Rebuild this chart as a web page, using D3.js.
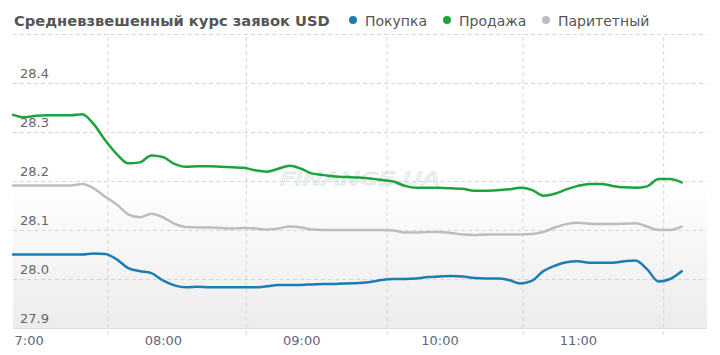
<!DOCTYPE html>
<html><head><meta charset="utf-8">
<script src="https://cdn.jsdelivr.net/npm/d3@7"></script>
<style>
html,body{margin:0;padding:0;background:#fff;}
svg{display:block;font-family:"DejaVu Sans",Verdana,sans-serif;}
</style></head>
<body><svg id="c" width="720" height="355"></svg>
<script>
const title = "Средневзвешенный курс заявок USD";
const seriesNames = ["Покупка","Продажа","Паритетный"];
const seriesColors = ["#1b7db3","#1ea33b","#bdbdbd"];
const times = ["06:55","07:00","07:05","07:10","07:15","07:20","07:25","07:30","07:35","07:40","07:45","07:50","07:55",
"08:00","08:05","08:10","08:15","08:20","08:25","08:30","08:35","08:40","08:45","08:50","08:55",
"09:00","09:05","09:10","09:15","09:20","09:25","09:30","09:35","09:40","09:45","09:50","09:55",
"10:00","10:05","10:10","10:15","10:20","10:25","10:30","10:35","10:40","10:45","10:50","10:55",
"11:00","11:05","11:10","11:15","11:20","11:25","11:30","11:35","11:40","11:45"];
const buy = [28.050,28.050,28.050,28.050,28.050,28.050,28.050,28.052,28.051,28.040,28.022,28.016,28.012,
27.997,27.987,27.983,27.984,27.983,27.983,27.983,27.983,27.983,27.985,27.988,27.988,
27.988,27.989,27.990,27.990,27.991,27.992,27.994,27.998,28.000,28.000,28.001,28.004,
28.005,28.006,28.005,28.002,28.001,28.001,27.998,27.991,27.996,28.016,28.027,28.034,
28.036,28.033,28.033,28.033,28.036,28.038,28.020,27.995,28.000,28.016];
const sell = [28.335,28.330,28.333,28.334,28.334,28.334,28.336,28.316,28.283,28.255,28.236,28.238,28.252,
28.249,28.235,28.229,28.230,28.230,28.229,28.228,28.227,28.222,28.219,28.225,28.231,
28.225,28.215,28.212,28.209,28.208,28.207,28.205,28.202,28.199,28.190,28.186,28.186,
28.186,28.185,28.184,28.180,28.180,28.181,28.183,28.186,28.182,28.170,28.174,28.183,
28.190,28.194,28.194,28.190,28.187,28.186,28.189,28.204,28.204,28.197];
const parity = [28.191,28.191,28.191,28.191,28.191,28.191,28.194,28.185,28.168,28.152,28.132,28.126,28.133,
28.126,28.113,28.106,28.105,28.105,28.104,28.103,28.104,28.103,28.101,28.103,28.107,
28.105,28.101,28.100,28.100,28.100,28.100,28.100,28.100,28.099,28.095,28.095,28.096,
28.096,28.094,28.091,28.090,28.091,28.091,28.091,28.091,28.092,28.096,28.105,28.112,
28.115,28.113,28.112,28.112,28.113,28.114,28.107,28.100,28.100,28.107];
const xTickLabels = ["07:00","08:00","09:00","10:00","11:00"];
const xGridTimes = ["07:36","08:36","09:37","10:36","11:37"];
const yTicks = [27.9,28.0,28.1,28.2,28.3,28.4,28.5];
const yLabelTicks = [27.9,28.0,28.1,28.2,28.3,28.4];

const toMin = s => { const [h,m] = s.split(":").map(Number); return (h-7)*60+m; };
const L = 13, R = 707, T = 34, B = 328;
const svg = d3.select("#c");
const x = d3.scaleLinear().domain([-5,296]).range([L,R]);
const y = d3.scaleLinear().domain([27.9,28.5]).range([B,T]);

const defs = svg.append("defs");
const g = defs.append("linearGradient").attr("id","bg").attr("x1",0).attr("y1",0).attr("x2",0).attr("y2",1);
g.append("stop").attr("offset","0%").attr("stop-color","#ffffff");
g.append("stop").attr("offset","100%").attr("stop-color","#ececec");
defs.append("clipPath").attr("id","clipx").append("rect").attr("x",L+1).attr("y",0).attr("width",R-L).attr("height",355);

svg.append("rect").attr("x",L).attr("y",y(28.2)).attr("width",R-L).attr("height",B-y(28.2)).attr("fill","url(#bg)");

// watermark
svg.append("text").attr("x",280).attr("y",185).attr("font-size",18).attr("font-style","italic")
  .attr("textLength",160).attr("lengthAdjust","spacingAndGlyphs")
  .attr("fill","none").attr("stroke","#d6e6e4").attr("stroke-width",0.8).text("FINANCE.UA");

// y grid + labels
const yAxis = d3.axisLeft(y).tickValues(yTicks).tickSize(-(R-L)).tickFormat(d => yLabelTicks.includes(d) ? d3.format(".1f")(d) : "");
const ya = svg.append("g").attr("transform",`translate(${L},0)`).call(yAxis);
ya.select(".domain").remove();
ya.selectAll(".tick line").attr("stroke","#d6d6d6").attr("stroke-dasharray","4,3")
  .filter(d => d===27.9).attr("stroke","#dcdcdc").attr("stroke-dasharray",null);
ya.selectAll(".tick text").attr("x",7).attr("dy","-0.45em").attr("text-anchor","start")
  .attr("font-size",13).attr("fill","#666").attr("font-family","DejaVu Sans");

// x grid lines
const xg = d3.axisBottom(x).tickValues(xGridTimes.map(toMin)).tickSize(-(B-T)).tickFormat("");
const xga = svg.append("g").attr("transform",`translate(0,${B})`).call(xg);
xga.select(".domain").remove();
xga.selectAll(".tick line").attr("y2",-(B-T)).attr("y1",7).attr("stroke","#d6d6d6").attr("stroke-dasharray","4,3");

// x labels
const xAxis = d3.axisBottom(x).tickValues(xTickLabels.map(toMin)).tickSize(0).tickFormat((d,i)=>xTickLabels[i]);
const xa = svg.append("g").attr("transform",`translate(0,${B})`).attr("clip-path","url(#clipx)").call(xAxis);
xa.select(".domain").remove();
xa.selectAll(".tick text").attr("y",17).attr("dy","0").attr("font-size",13).attr("fill","#626675").attr("font-family","DejaVu Sans");

// lines
const line = d3.line().x((d,i)=>x(toMin(times[i]))).y(d=>y(d)).curve(d3.curveMonotoneX);
[[parity,2],[sell,1],[buy,0]].forEach(([arr,ci]) => {
  svg.append("path").attr("d",line(arr)).attr("fill","none").attr("stroke",seriesColors[ci])
    .attr("stroke-width",2.5).attr("stroke-linejoin","round").attr("stroke-linecap","round");
});

// title
svg.append("text").attr("x",14).attr("y",26).attr("font-size",14.7).attr("font-weight","bold").attr("fill","#555").text(title);
// legend
const legX = [353,447,546];
seriesNames.forEach((n,i) => {
  svg.append("circle").attr("cx",legX[i]).attr("cy",20).attr("r",4).attr("fill",seriesColors[i]);
  svg.append("text").attr("x",legX[i]+12).attr("y",26).attr("font-size",14).attr("fill","#555").text(n);
});
</script></body></html>
